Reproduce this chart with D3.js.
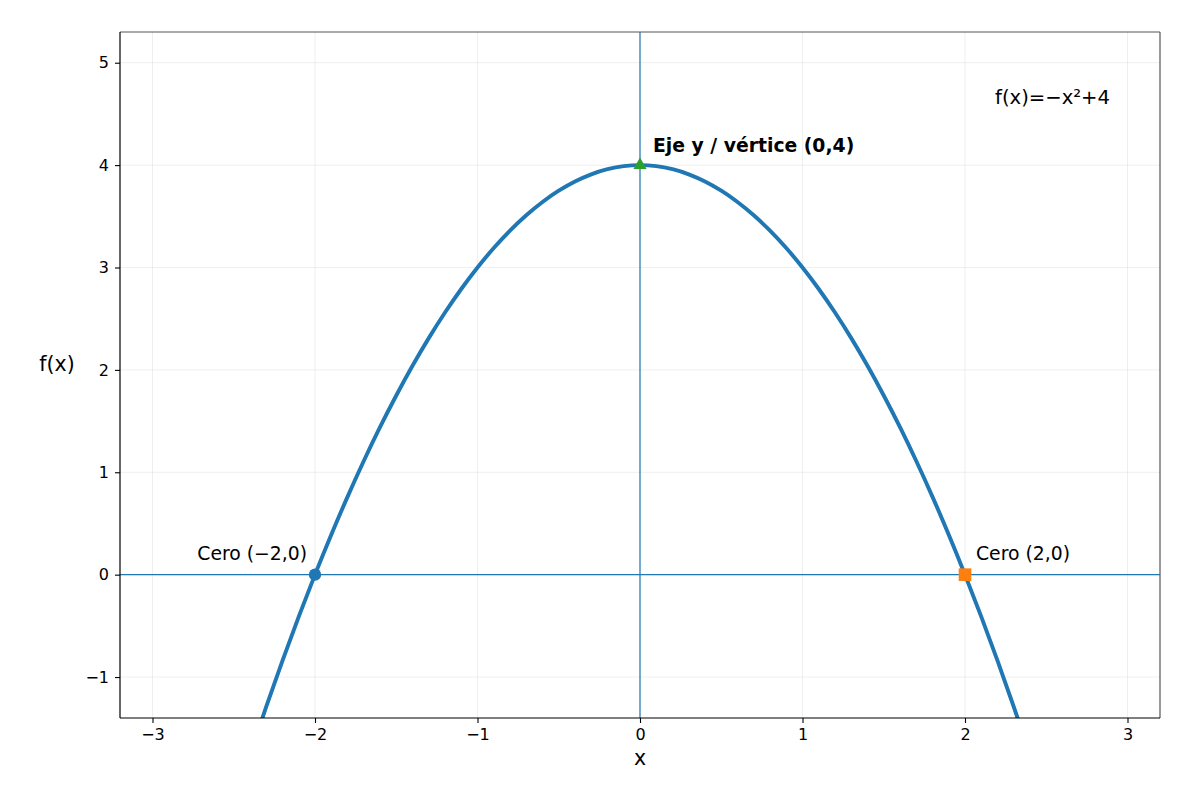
<!DOCTYPE html>
<html><head><meta charset="utf-8">
<script src="https://cdn.jsdelivr.net/npm/d3@7"></script>
<style>body{margin:0;background:#fff}svg{display:block}text{font-family:"DejaVu Sans",sans-serif}</style>
</head><body><svg id="c" width="1200" height="800"></svg>
<script>
// data
const curveX = [-2.4,-2.3,-2.2,-2.1,-2.0,-1.9,-1.8,-1.7,-1.6,-1.5,-1.4,-1.3,-1.2,-1.1,-1.0,-0.9,-0.8,-0.7,-0.6,-0.5,-0.4,-0.3,-0.2,-0.1,0,0.1,0.2,0.3,0.4,0.5,0.6,0.7,0.8,0.9,1.0,1.1,1.2,1.3,1.4,1.5,1.6,1.7,1.8,1.9,2.0,2.1,2.2,2.3,2.4];
const curveY = [-1.76,-1.29,-0.84,-0.41,0,0.39,0.76,1.11,1.44,1.75,2.04,2.31,2.56,2.79,3,3.19,3.36,3.51,3.64,3.75,3.84,3.91,3.96,3.99,4,3.99,3.96,3.91,3.84,3.75,3.64,3.51,3.36,3.19,3,2.79,2.56,2.31,2.04,1.75,1.44,1.11,0.76,0.39,0,-0.41,-0.84,-1.29,-1.76];
const xTicks = [-3,-2,-1,0,1,2,3];
const yTicks = [-1,0,1,2,3,4,5];
const pointLabels = ["Cero (\u22122,0)","Cero (2,0)","Eje y / v\u00e9rtice (0,4)"];
const pointX = [-2,2,0];
const pointY = [0,0,4];
const formulaText = "f(x)=\u2212x\u00b2+4";

const L=120,R=1160,T=32,B=718;
const svg=d3.select("#c");
const x=d3.scaleLinear().domain([-3.2,3.2]).range([L,R]);
const y=d3.scaleLinear().domain([-1.4,5.3]).range([B,T]);

svg.append("defs").append("clipPath").attr("id","clip").append("rect")
  .attr("x",L).attr("y",T).attr("width",R-L).attr("height",B-T);

// grid
const g=svg.append("g");
g.selectAll(".gx").data(xTicks).enter().append("line")
  .attr("x1",d=>x(d)).attr("x2",d=>x(d)).attr("y1",T).attr("y2",B)
  .attr("stroke","#b0b0b0").attr("stroke-opacity",0.25).attr("stroke-width",0.8);
g.selectAll(".gy").data(yTicks).enter().append("line")
  .attr("y1",d=>y(d)).attr("y2",d=>y(d)).attr("x1",L).attr("x2",R)
  .attr("stroke","#b0b0b0").attr("stroke-opacity",0.25).attr("stroke-width",0.8);

// reference axes lines
svg.append("line").attr("x1",L).attr("x2",R).attr("y1",y(0)).attr("y2",y(0))
  .attr("stroke","#1f77b4").attr("stroke-width",1.2);
svg.append("line").attr("x1",x(0)).attr("x2",x(0)).attr("y1",T).attr("y2",B)
  .attr("stroke","#1f77b4").attr("stroke-width",1.2);

// curve
const pts=curveX.map((v,i)=>[v,curveY[i]]);
svg.append("path").datum(pts).attr("clip-path","url(#clip)")
  .attr("d",d3.line().x(d=>x(d[0])).y(d=>y(d[1])).curve(d3.curveCatmullRom))
  .attr("fill","none").attr("stroke","#1f77b4").attr("stroke-width",3.9);

// markers
svg.append("circle").attr("cx",x(pointX[0])).attr("cy",y(pointY[0])).attr("r",6.2).attr("fill","#1f77b4");
svg.append("rect").attr("x",x(pointX[1])-6.3).attr("y",y(pointY[1])-6.3).attr("width",12.6).attr("height",12.6).attr("fill","#ff7f0e");
svg.append("path").attr("transform",`translate(${x(pointX[2])},${y(pointY[2])})`)
  .attr("d",d3.symbol().type(d3.symbolTriangle).size(75)()).attr("fill","#2ca02c");

// annotations
svg.append("text").attr("x",x(pointX[0])-8).attr("y",y(pointY[0])-15).attr("text-anchor","end")
  .attr("font-size",18.8).text(pointLabels[0]);
svg.append("text").attr("x",x(pointX[1])+11).attr("y",y(pointY[1])-15)
  .attr("font-size",18.8).text(pointLabels[1]);
svg.append("text").attr("x",x(pointX[2])+13).attr("y",y(pointY[2])-13)
  .attr("font-size",18.8).attr("font-weight","bold").text(pointLabels[2]);
svg.append("text").attr("x",1110).attr("y",104).attr("text-anchor","end")
  .attr("font-size",19.6).text(formulaText);

// axes
const fmt=d=>d3.format("")(d).replace("-","\u2212");
const ax=svg.append("g").attr("transform",`translate(0,${B})`)
  .call(d3.axisBottom(x).tickValues(xTicks).tickSize(5).tickPadding(6).tickFormat(fmt));
const ay=svg.append("g").attr("transform",`translate(${L},0)`)
  .call(d3.axisLeft(y).tickValues(yTicks).tickSize(5).tickPadding(6).tickFormat(fmt));
[ax,ay].forEach(a=>{a.select(".domain").remove();
  a.selectAll("text").attr("font-size",16).attr("font-family","DejaVu Sans").attr("fill","#000");
  a.selectAll("line").attr("stroke","#000").attr("stroke-width",1.1);});

// frame
svg.append("line").attr("x1",L).attr("x2",R).attr("y1",T).attr("y2",T).attr("stroke","#555").attr("stroke-width",1.2);
svg.append("line").attr("x1",R).attr("x2",R).attr("y1",T).attr("y2",B).attr("stroke","#555").attr("stroke-width",1.2);
svg.append("line").attr("x1",L).attr("x2",L).attr("y1",T).attr("y2",B).attr("stroke","#000").attr("stroke-width",1.2);
svg.append("line").attr("x1",L).attr("x2",R).attr("y1",B).attr("y2",B).attr("stroke","#000").attr("stroke-width",1.2);

// axis labels
svg.append("text").attr("x",(L+R)/2).attr("y",765).attr("text-anchor","middle").attr("font-size",20.5).text("x");
svg.append("text").attr("x",57).attr("y",371).attr("text-anchor","middle").attr("font-size",20.5).text("f(x)");
</script></body></html>
